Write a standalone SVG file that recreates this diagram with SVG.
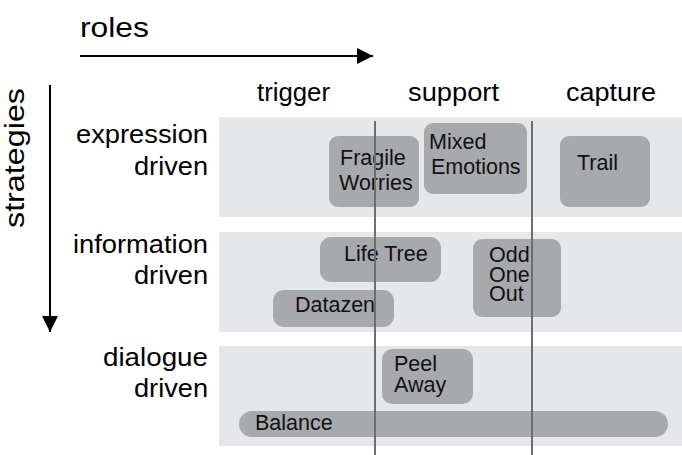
<svg xmlns="http://www.w3.org/2000/svg" width="682" height="455" viewBox="0 0 682 455">
  <defs>
    <marker id="arrowhead" viewBox="0 0 16 16" refX="16" refY="8" markerWidth="16" markerHeight="16" markerUnits="userSpaceOnUse" orient="auto">
      <path d="M0,0 L16,8 L0,16 Z" fill="#000"/>
    </marker>
    <style>
      text { font-family: "Liberation Sans", Arial, Helvetica, sans-serif; fill: #000; }
      .axis-title { font-size: 28px; }
      .label { font-size: 25px; }
      .node-text { font-size: 21.5px; fill: #111; }
      .band { fill: #e6e7e8; }
      .node { fill: #a7a9ac; }
      .divider { stroke: #6d6e71; stroke-width: 2; fill: none; }
      .axis { stroke: #000; stroke-width: 2; fill: none; }
    </style>
  </defs>

  <rect width="682" height="455" fill="#fff"/>

  <!-- axes -->
  <g id="axes">
    <text class="axis-title" x="80" y="37" textLength="69" lengthAdjust="spacingAndGlyphs">roles</text>
    <line class="axis" x1="80" y1="56" x2="373" y2="56" marker-end="url(#arrowhead)"/>
    <text class="axis-title" transform="translate(24,228) rotate(-90)" x="0" y="0" textLength="140" lengthAdjust="spacingAndGlyphs">strategies</text>
    <line class="axis" x1="50" y1="85" x2="50" y2="332" marker-end="url(#arrowhead)"/>
  </g>

  <!-- column headings -->
  <g id="columns" text-anchor="middle">
    <text class="label" x="293.5" y="101" textLength="73" lengthAdjust="spacingAndGlyphs">trigger</text>
    <text class="label" x="453.5" y="101" textLength="91" lengthAdjust="spacingAndGlyphs">support</text>
    <text class="label" x="611" y="101" textLength="90" lengthAdjust="spacingAndGlyphs">capture</text>
  </g>

  <!-- row bands and headings -->
  <g id="rows">
    <rect class="band" x="219" y="117" width="463" height="100"/>
    <rect class="band" x="219" y="232" width="463" height="100"/>
    <rect class="band" x="219" y="346" width="463" height="100"/>
    <g text-anchor="end">
      <text class="label" x="208" y="143" textLength="132" lengthAdjust="spacingAndGlyphs">expression</text>
      <text class="label" x="208" y="175" textLength="74" lengthAdjust="spacingAndGlyphs">driven</text>
      <text class="label" x="208" y="253" textLength="135" lengthAdjust="spacingAndGlyphs">information</text>
      <text class="label" x="208" y="284" textLength="74" lengthAdjust="spacingAndGlyphs">driven</text>
      <text class="label" x="208" y="366" textLength="105" lengthAdjust="spacingAndGlyphs">dialogue</text>
      <text class="label" x="208" y="397" textLength="74" lengthAdjust="spacingAndGlyphs">driven</text>
    </g>
  </g>

  <!-- nodes -->
  <g id="fragile-worries">
    <rect class="node" x="329" y="136" width="90" height="71" rx="9"/>
    <text class="node-text" x="340" y="165">Fragile</text>
    <text class="node-text" x="339" y="190">Worries</text>
  </g>
  <g id="mixed-emotions">
    <rect class="node" x="424" y="123" width="103" height="71" rx="9"/>
    <text class="node-text" x="429" y="149">Mixed</text>
    <text class="node-text" x="431" y="174">Emotions</text>
  </g>
  <g id="trail">
    <rect class="node" x="560" y="136" width="90" height="71" rx="9"/>
    <text class="node-text" x="577" y="170">Trail</text>
  </g>
  <g id="life-tree">
    <rect class="node" x="320" y="237" width="121" height="45" rx="11"/>
    <text class="node-text" x="344" y="261">Life Tree</text>
  </g>
  <g id="datazen">
    <rect class="node" x="273" y="290" width="121" height="37" rx="11"/>
    <text class="node-text" x="295" y="312">Datazen</text>
  </g>
  <g id="odd-one-out">
    <rect class="node" x="473" y="239" width="88" height="78" rx="9"/>
    <text class="node-text" x="489" y="262">Odd</text>
    <text class="node-text" x="489" y="281.5">One</text>
    <text class="node-text" x="489" y="301">Out</text>
  </g>
  <g id="peel-away">
    <rect class="node" x="382" y="349" width="91" height="55" rx="10"/>
    <text class="node-text" x="394" y="371">Peel</text>
    <text class="node-text" x="394" y="392">Away</text>
  </g>
  <g id="balance">
    <rect class="node" x="239" y="411" width="429" height="26" rx="13"/>
    <text class="node-text" x="255" y="430">Balance</text>
  </g>

  <!-- role dividers -->
  <g id="connectors">
    <line class="divider" x1="375" y1="121" x2="375" y2="455"/>
    <line class="divider" x1="532" y1="121" x2="532" y2="455"/>
  </g>
</svg>
